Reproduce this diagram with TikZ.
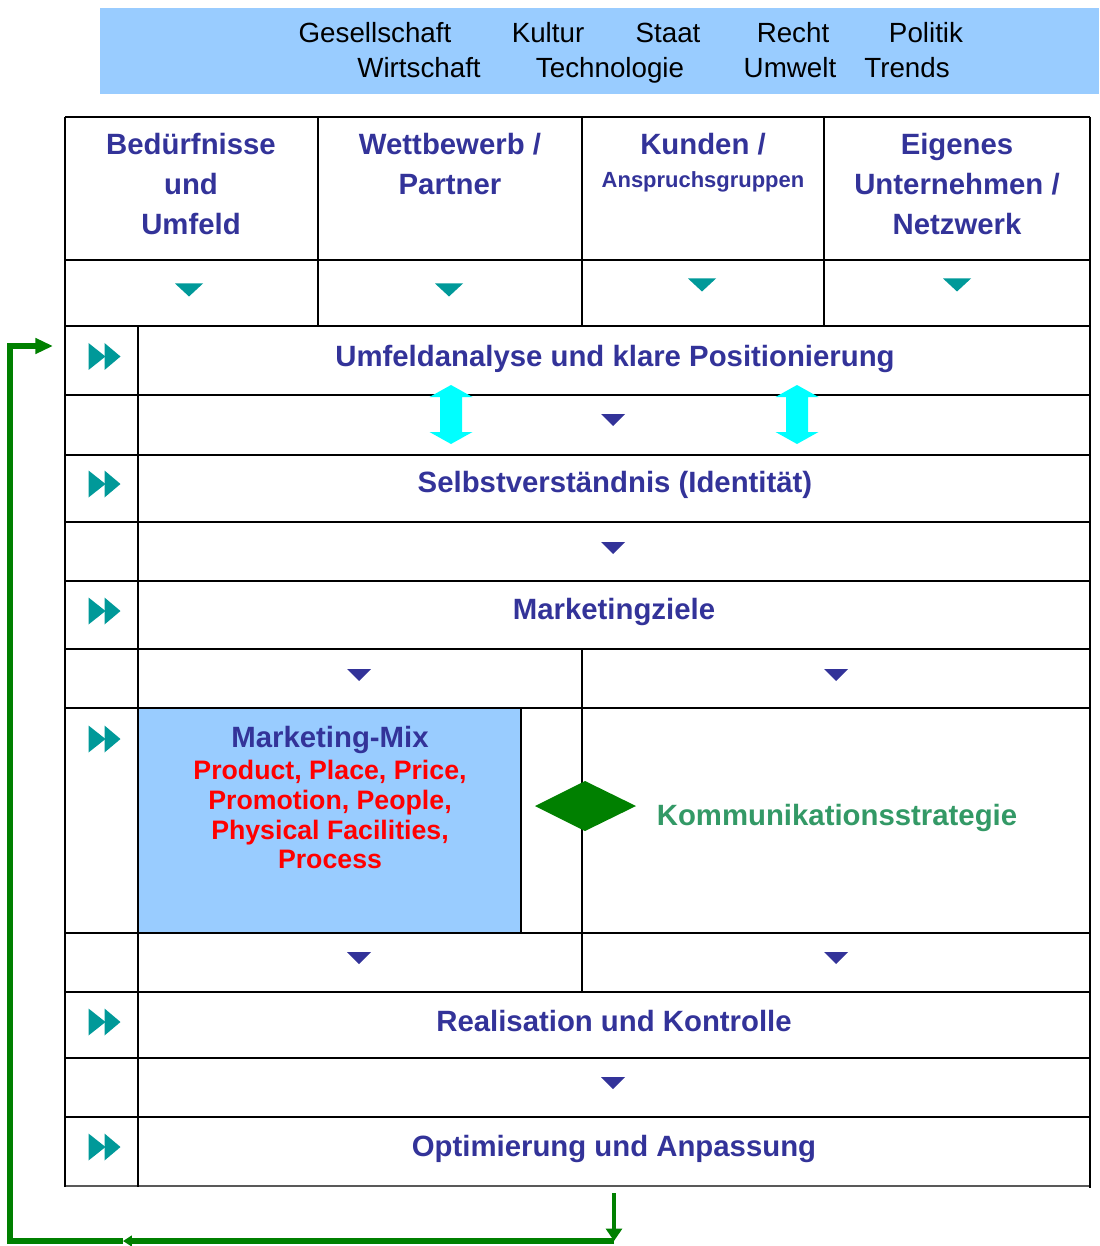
\documentclass[tikz,border=0pt]{standalone}
\usepackage{fontspec}
\setmainfont{Liberation Sans}
\usetikzlibrary{arrows.meta}
\definecolor{navy}{HTML}{333399}
\definecolor{tealc}{HTML}{009999}
\definecolor{skyb}{HTML}{99CCFF}
\definecolor{kgreen}{HTML}{339966}
\definecolor{fgreen}{HTML}{008000}
\definecolor{cyanc}{HTML}{00FFFF}
\definecolor{mixred}{HTML}{FF0000}

\begin{document}
\begin{tikzpicture}[x=0.02cm,y=-0.02cm,
  gridline/.style={line width=1.4pt, black},
  env/.style={font=\fontsize{15.8}{19}\selectfont, text=black, anchor=base, inner sep=0},
  hdr/.style={font=\fontsize{16.7}{22.7}\selectfont\bfseries, text=navy, align=center, anchor=north, inner sep=0},
  stage/.style={font=\fontsize{16.7}{20}\selectfont\bfseries, text=navy, anchor=base, inner sep=0},
  mixitems/.style={font=\fontsize{15.2}{16.9}\selectfont\bfseries, text=mixred, align=center, anchor=north, inner sep=0},
  fbline/.style={draw=fgreen, line width=3.4pt},
  tri/.pic={\fill (-12,-6) -- (12,-6) -- (0,6) -- cycle;},
  bigtri/.pic={\fill (-14,-6.5) -- (14,-6.5) -- (0,6.5) -- cycle;},
  ffwd/.pic={\fill (-16,-13.5) -- (-16,13.5) -- (1,0) -- cycle;
             \fill (0,-13.5) -- (0,13.5) -- (16,0) -- cycle;},
  updown/.pic={\fill (0,-29.5) -- (21.5,-17.5) -- (11,-17.5) -- (11,17.5) -- (21.5,17.5)
               -- (0,29.5) -- (-21.5,17.5) -- (-11,17.5) -- (-11,-17.5) -- (-21.5,-17.5) -- cycle;}
]
\useasboundingbox (0,0) rectangle (1099,1246);

% environment banner
\fill[skyb] (100,8) rectangle (1099,94);
\node[env] (gesellschaft) at (375,43) {Gesellschaft};
\node[env] (kultur) at (548,43) {Kultur};
\node[env] (staat) at (668,43) {Staat};
\node[env] (recht) at (793,43) {Recht};
\node[env] (politik) at (926,43) {Politik};
\node[env] (wirtschaft) at (419,78) {Wirtschaft};
\node[env] (technologie) at (610,78) {Technologie};
\node[env] (umwelt) at (790,78) {Umwelt};
\node[env] (trends) at (907,78) {Trends};

% marketing mix box
\fill[skyb] (138,708) rectangle (521,933);
\draw[gridline] (521,708) -- (521,933);

% table grid
\foreach \yy in {117,260,326,395,455,522,581,649,708,933,992,1058,1117}
  \draw[gridline] (65,\yy) -- (1090,\yy);
\draw[line width=1.2pt, black!65] (65,1186) -- (1090,1186);
\draw[gridline] (65,117) -- (65,1187);
\draw[gridline] (1090,117) -- (1090,1188);
\foreach \xx in {318,582,824}
  \draw[gridline] (\xx,117) -- (\xx,326);
\draw[gridline] (138,326) -- (138,1187);
\draw[gridline] (582,649) -- (582,992);

% header cells
\node[hdr] (beduerfnisse) at (191,133) {Bedürfnisse\\und\\Umfeld};
\node[hdr] (wettbewerb) at (450,133) {Wettbewerb /\\Partner};
\node[stage] (kunden) at (703,155) {Kunden /};
\node[stage, font=\fontsize{12.5}{15}\selectfont\bfseries] (anspruch) at (703,188) {Anspruchsgruppen};
\node[hdr] (eigenes) at (957,133) {Eigenes\\Unternehmen /\\Netzwerk};

\pic[tealc] at (189,290) {bigtri};
\pic[tealc] at (449,290) {bigtri};
\pic[tealc] at (702,285) {bigtri};
\pic[tealc] at (957,285) {bigtri};

% process stages
\node[stage] (umfeld) at (615,366.5) {Umfeldanalyse und klare Positionierung};
\node[stage] (selbst) at (615,492.5) {Selbstverständnis (Identität)};
\node[stage] (ziele) at (614,619.5) {Marketingziele};
\node[stage] (mixtitle) at (330,747.5) {Marketing-Mix};
\node[mixitems] (mixlist) at (330,760) {Product, Place, Price,\\Promotion, People,\\Physical Facilities,\\Process};
\node[stage, text=kgreen] (komm) at (837,825.5) {Kommunikationsstrategie};
\node[stage] (real) at (614,1031.5) {Realisation und Kontrolle};
\node[stage] (opt) at (614,1156.5) {Optimierung und Anpassung};

% step markers
\foreach \yy in {356.5,484,611,739,1022,1147}
  \pic[tealc] at (104.5,\yy) {ffwd};

\pic[navy] at (613,420) {tri};
\pic[navy] at (613,548) {tri};
\pic[navy] at (359,675) {tri};
\pic[navy] at (836,675) {tri};
\pic[navy] at (359,958) {tri};
\pic[navy] at (836,958) {tri};
\pic[navy] at (613,1083) {tri};

\pic[cyanc] at (451,414.5) {updown};
\pic[cyanc] at (797,414.5) {updown};

% link between mix and communication
\fill[fgreen] (535,806) -- (585,781) -- (636,806) -- (585,831) -- cycle;

% feedback loop
\coordinate (fbtop) at (614,1193);
\coordinate (fbbot) at (614,1241);
\coordinate (fbmid) at (123,1241);
\coordinate (fbleft) at (10,1241);
\coordinate (fbup) at (10,346);
\coordinate (fbend) at (53,346);
\draw[fbline, line width=2.3pt, -{Triangle[length=7pt,width=9pt]}] (fbtop) -- (fbbot);
\draw[fbline, -{Triangle[length=5pt,width=6pt]}] (fbbot) -- (fbmid);
\draw[fbline, miter limit=10, -{Triangle[length=10pt,width=8.5pt]}] (fbmid) -- (fbleft) -- (fbup) -- (fbend);
\end{tikzpicture}
\end{document}
